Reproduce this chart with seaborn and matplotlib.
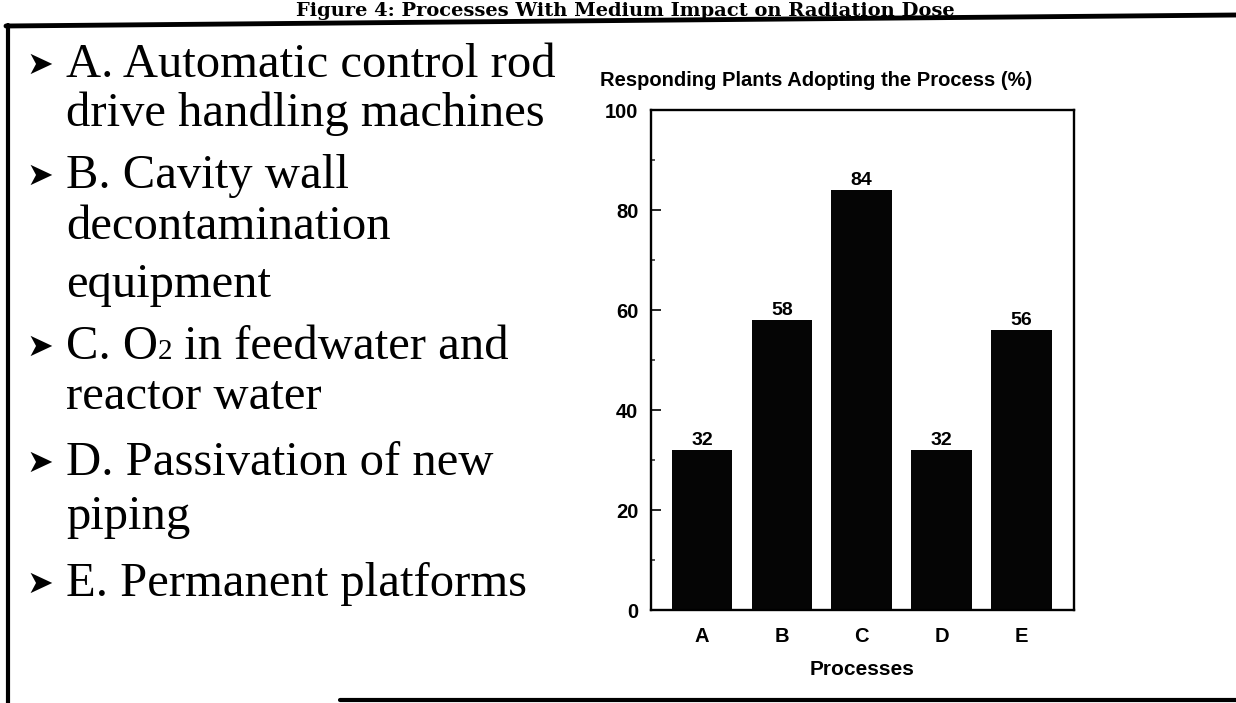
import matplotlib
matplotlib.use('Agg')
import matplotlib.pyplot as plt
import seaborn as sns
from matplotlib.lines import Line2D
from matplotlib.ticker import MultipleLocator

# data
processes = ['A', 'B', 'C', 'D', 'E']
adoption = [32, 58, 84, 32, 56]
item_lines = [
    ['A. Automatic control rod', 'drive handling machines'],
    ['B. Cavity wall', 'decontamination', 'equipment'],
    ['C. O|2| in feedwater and', 'reactor water'],   # |2| = small figure
    ['D. Passivation of new', 'piping'],
    ['E. Permanent platforms'],
]
title = 'Figure 4: Processes With Medium Impact on Radiation Dose'

W, H = 1236, 703
sns.set_style('white')
plt.rcParams['font.family'] = ['Liberation Sans', 'DejaVu Sans']

fig = plt.figure(figsize=(W / 100, H / 100), dpi=100)
fig.patch.set_facecolor('white')
renderer = fig.canvas.get_renderer()


def fx(x):
    return x / W


def fy(y):
    return 1 - y / H


# bar chart
ax = fig.add_axes([fx(651), fy(610), fx(1074) - fx(651), fy(110) - fy(610)])
sns.barplot(x=processes, y=adoption, color='#050505', saturation=1, width=0.76,
            linewidth=0, ax=ax)
ax.set_xlim(-0.64, 4.66)
ax.set_ylim(0, 100)
ax.yaxis.set_major_locator(MultipleLocator(20))
ax.yaxis.set_minor_locator(MultipleLocator(10))
ax.tick_params(axis='y', which='major', direction='in', length=7, width=1.4,
               labelsize=14.5, pad=9, left=True, labelcolor='black')
ax.tick_params(axis='y', which='minor', direction='in', length=3, width=1.1, left=True)
ax.tick_params(axis='x', length=0, labelsize=14.5, pad=12, labelcolor='black')
for lab in ax.get_xticklabels() + ax.get_yticklabels():
    lab.set_fontweight('bold')
for sp in ax.spines.values():
    sp.set_visible(True)
    sp.set_linewidth(1.7)
    sp.set_color('black')
ax.set_xlabel('Processes', fontsize=15, fontweight='bold', labelpad=10, color='black')
ax.set_ylabel('')
ax.bar_label(ax.containers[0], fmt='%d', padding=1, fontsize=14, fontweight='bold',
             color='black')
ax.text((600 - 651) / 423, 1.04, 'Responding Plants Adopting the Process (%)',
        transform=ax.transAxes, ha='left', va='bottom', fontsize=14.5,
        fontweight='bold', color='black')

# left text list
serif = ['Liberation Serif', 'DejaVu Serif']
fs = 35
line_y = [[77, 126], [188, 239, 297], [359, 409], [475, 529], [596]]
for lines, ys in zip(item_lines, line_y):
    fig.text(fx(26), fy(ys[0] - 12), '\u27a4', family=['DejaVu Sans'], fontsize=23,
             va='center', ha='left', color='black')
    for txt, y in zip(lines, ys):
        x = fx(66)
        for k, part in enumerate(txt.split('|')):
            small = (k % 2 == 1)
            t = fig.text(x, fy(y), part, family=serif, fontsize=21 if small else fs,
                         va='baseline', ha='left', color='black')
            x = fig.transFigure.inverted().transform(
                (t.get_window_extent(renderer).x1, 0))[0]

# figure title above the frame
fig.text(fx(625), fy(15.5), title, family=['DejaVu Serif'], fontsize=14,
         fontweight='bold', ha='center', va='baseline', color='black')

# frame around the slide
fig.add_artist(Line2D([fx(6), fx(1236)], [fy(26), fy(15)], color='black', lw=3.5))
fig.add_artist(Line2D([fx(8), fx(8)], [fy(25), fy(703)], color='black', lw=3))
fig.add_artist(Line2D([fx(340), fx(1236)], [fy(700), fy(700)], color='black', lw=3))

fig.savefig('out.png', dpi=100, facecolor='white')
